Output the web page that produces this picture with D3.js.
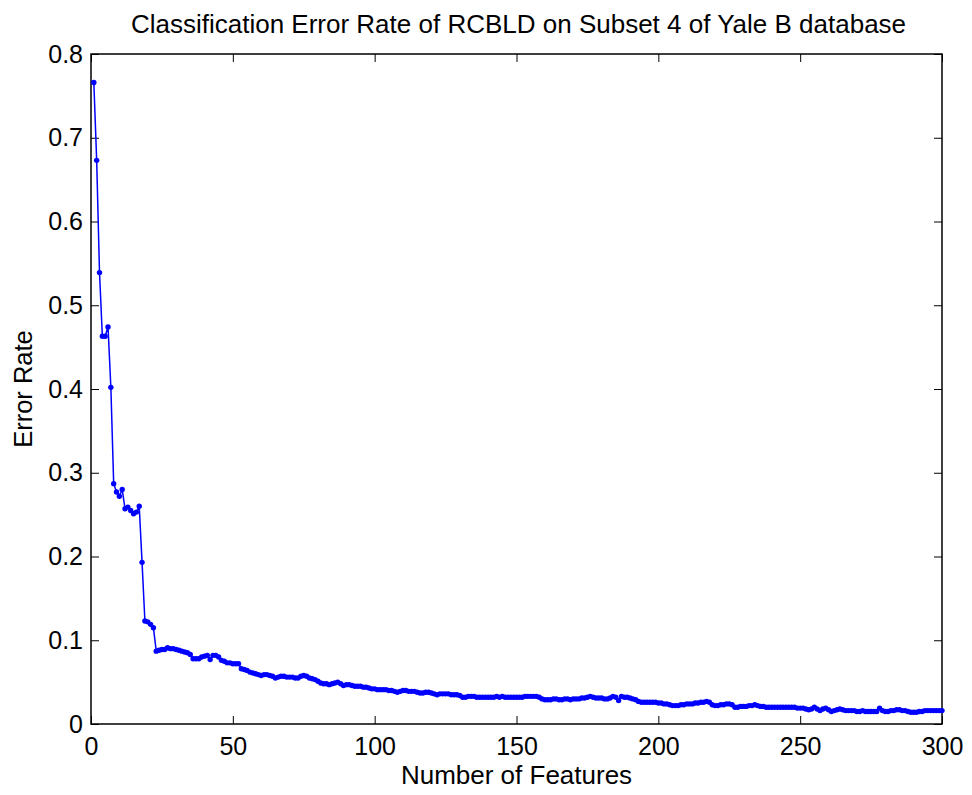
<!DOCTYPE html>
<html>
<head>
<meta charset="utf-8">
<script src="https://cdn.jsdelivr.net/npm/d3@7"></script>
<style>
  body { margin: 0; background: #fff; }
  svg { display: block; font-family: "Liberation Sans", Arial, sans-serif; }
</style>
</head>
<body>
<svg></svg>
<script>
// feature counts 1..300 along the x axis
var features = d3.range(1, 301);

// error rate, one value per feature count
var errorRate = [
  0.766, 0.673, 0.539, 0.463, 0.463, 0.474, 0.402, 0.287, 0.277, 0.272,
  0.280, 0.257, 0.259, 0.255, 0.251, 0.253, 0.260, 0.193, 0.123, 0.122,
  0.119, 0.115, 0.087, 0.088, 0.089, 0.089, 0.091, 0.090, 0.090, 0.089,
  0.088, 0.087, 0.086, 0.085, 0.083, 0.078, 0.078, 0.078, 0.080, 0.081,
  0.082, 0.077, 0.082, 0.082, 0.080, 0.076, 0.075, 0.073, 0.073, 0.072,
  0.072, 0.072, 0.066, 0.065, 0.064, 0.062, 0.061, 0.060, 0.059, 0.058,
  0.059, 0.059, 0.058, 0.057, 0.055, 0.056, 0.057, 0.057, 0.056, 0.056,
  0.056, 0.055, 0.055, 0.057, 0.058, 0.057, 0.055, 0.054, 0.053, 0.051,
  0.049, 0.048, 0.048, 0.047, 0.048, 0.049, 0.050, 0.048, 0.046, 0.047,
  0.047, 0.046, 0.045, 0.045, 0.045, 0.044, 0.044, 0.043, 0.042, 0.042,
  0.041, 0.041, 0.041, 0.041, 0.040, 0.040, 0.039, 0.038, 0.039, 0.040,
  0.040, 0.039, 0.039, 0.039, 0.038, 0.037, 0.037, 0.038, 0.038, 0.037,
  0.036, 0.035, 0.036, 0.036, 0.036, 0.036, 0.035, 0.035, 0.035, 0.034,
  0.032, 0.032, 0.033, 0.033, 0.033, 0.032, 0.032, 0.032, 0.032, 0.032,
  0.032, 0.032, 0.033, 0.032, 0.033, 0.032, 0.032, 0.032, 0.032, 0.032,
  0.032, 0.032, 0.033, 0.033, 0.033, 0.033, 0.033, 0.032, 0.030, 0.029,
  0.029, 0.029, 0.030, 0.030, 0.029, 0.029, 0.030, 0.030, 0.029, 0.030,
  0.030, 0.030, 0.031, 0.031, 0.032, 0.033, 0.032, 0.031, 0.031, 0.031,
  0.030, 0.030, 0.031, 0.033, 0.032, 0.028, 0.033, 0.032, 0.032, 0.031,
  0.030, 0.029, 0.027, 0.026, 0.026, 0.026, 0.026, 0.026, 0.026, 0.025,
  0.025, 0.024, 0.024, 0.023, 0.022, 0.022, 0.022, 0.023, 0.023, 0.024,
  0.024, 0.024, 0.025, 0.025, 0.026, 0.026, 0.027, 0.026, 0.023, 0.022,
  0.022, 0.023, 0.023, 0.024, 0.024, 0.023, 0.020, 0.020, 0.021, 0.021,
  0.021, 0.022, 0.022, 0.023, 0.022, 0.021, 0.021, 0.020, 0.020, 0.020,
  0.020, 0.020, 0.020, 0.020, 0.020, 0.020, 0.020, 0.020, 0.019, 0.019,
  0.019, 0.018, 0.017, 0.018, 0.020, 0.018, 0.016, 0.018, 0.019, 0.017,
  0.015, 0.016, 0.017, 0.018, 0.017, 0.016, 0.016, 0.016, 0.016, 0.015,
  0.015, 0.016, 0.015, 0.015, 0.015, 0.015, 0.015, 0.019, 0.016, 0.015,
  0.015, 0.016, 0.016, 0.017, 0.017, 0.016, 0.016, 0.015, 0.014, 0.014,
  0.014, 0.015, 0.015, 0.016, 0.016, 0.016, 0.016, 0.016, 0.016, 0.016
];

var xTicks = [0, 50, 100, 150, 200, 250, 300];
var yTicks = [0, 0.1, 0.2, 0.3, 0.4, 0.5, 0.6, 0.7, 0.8];
var yTickLabels = ["0", "0.1", "0.2", "0.3", "0.4", "0.5", "0.6", "0.7", "0.8"];

var width = 972;
var height = 795;
var margin = {top: 54, right: 30, bottom: 71, left: 91};
var plotW = width - margin.left - margin.right;
var plotH = height - margin.top - margin.bottom;

var svg = d3.select("svg")
            .attr("width", width)
            .attr("height", height);

var x = d3.scaleLinear().domain([0, 300]).range([0, plotW]);
var y = d3.scaleLinear().domain([0, 0.8]).range([plotH, 0]);

var g = svg.append("g")
           .attr("transform", "translate(" + margin.left + "," + margin.top + ")");

// axes, ticks pointing inward like matlab
var bottomAxis = d3.axisBottom(x).tickValues(xTicks).tickSizeInner(-8).tickSizeOuter(0).tickPadding(13);
var topAxis = d3.axisTop(x).tickValues(xTicks).tickSizeInner(-8).tickSizeOuter(0).tickFormat("");
var leftAxis = d3.axisLeft(y).tickValues(yTicks).tickSizeInner(-8).tickSizeOuter(0).tickPadding(8)
                 .tickFormat(function(d, i) { return yTickLabels[i]; });
var rightAxis = d3.axisRight(y).tickValues(yTicks).tickSizeInner(-8).tickSizeOuter(0).tickFormat("");

var axes = [
  {axis: bottomAxis, t: "translate(0," + plotH + ")"},
  {axis: topAxis, t: "translate(0,0)"},
  {axis: leftAxis, t: "translate(0,0)"},
  {axis: rightAxis, t: "translate(" + plotW + ",0)"}
];
axes.forEach(function(a)
{
  var ag = g.append("g").attr("transform", a.t).call(a.axis);
  ag.select(".domain").remove();
  ag.selectAll(".tick line").attr("stroke", "#000").attr("stroke-width", 1);
  ag.selectAll(".tick text")
    .attr("font-family", "Liberation Sans, Arial, sans-serif")
    .attr("font-size", 25)
    .attr("fill", "#000");
});

// box around the plot area
g.append("rect")
 .attr("x", 0)
 .attr("y", 0)
 .attr("width", plotW)
 .attr("height", plotH)
 .attr("fill", "none")
 .attr("stroke", "#000")
 .attr("stroke-width", 1.5);

var line = d3.line()
             .x(function(d, i) { return x(features[i]); })
             .y(function(d) { return y(d); });

g.append("path")
 .datum(errorRate)
 .attr("d", line)
 .attr("fill", "none")
 .attr("stroke", "#0000ff")
 .attr("stroke-width", 1.5);

g.selectAll("circle.pt")
 .data(errorRate)
 .enter()
 .append("circle")
 .attr("class", "pt")
 .attr("cx", function(d, i) { return x(features[i]); })
 .attr("cy", function(d) { return y(d); })
 .attr("r", 2.7)
 .attr("fill", "#0000ff");

// labels
svg.append("text")
   .text("Classification Error Rate of RCBLD on Subset 4 of Yale B database")
   .attr("x", margin.left + plotW / 2 + 2)
   .attr("y", 33)
   .attr("text-anchor", "middle")
   .attr("font-size", 26)
   .attr("fill", "#000");

svg.append("text")
   .text("Number of Features")
   .attr("x", margin.left + plotW / 2)
   .attr("y", 784)
   .attr("text-anchor", "middle")
   .attr("font-size", 26)
   .attr("fill", "#000");

svg.append("text")
   .text("Error Rate")
   .attr("transform", "translate(32," + (margin.top + plotH / 2) + ") rotate(-90)")
   .attr("text-anchor", "middle")
   .attr("font-size", 25.5)
   .attr("fill", "#000");
</script>
</body>
</html>
